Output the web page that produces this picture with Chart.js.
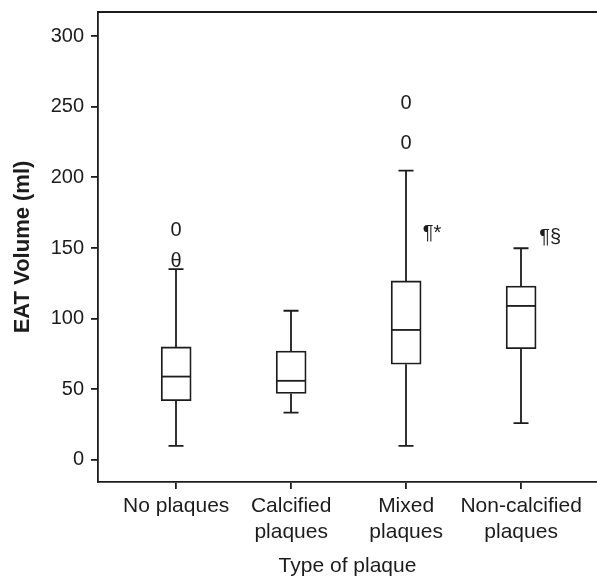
<!DOCTYPE html>
<html><head><meta charset="utf-8">
<script src="https://cdn.jsdelivr.net/npm/chart.js@4.4.1/dist/chart.umd.min.js"></script>
<style>html,body{margin:0;padding:0;background:#fff}</style>
</head><body>
<canvas id="c" width="597" height="587"></canvas>
<script>
const categories = [["No plaques"], ["Calcified", "plaques"], ["Mixed", "plaques"], ["Non-calcified", "plaques"]];
const whiskerLow = [10, 33.5, 10, 26];
const q1 = [42, 47, 67.7, 78.8];
const median = [59, 56, 92, 109];
const q3 = [80, 77, 126.7, 123];
const whiskerHigh = [135, 105.6, 204.7, 149.8];
const outlierCat = [1, 1, 3, 3];
const outlierVal = [140.3, 162.7, 224, 252.4];
const outlierSym = ["θ", "0", "0", "0"];
const noteX = [3.226, 4.252];
const noteVal = [160.6, 157.4];
const noteText = ["¶*", "¶§"];
const yTicks = [0, 50, 100, 150, 200, 250, 300];

const INK = '#1c1c1c';
const LW = 1.8;
const FONT = "'Liberation Sans', Arial, sans-serif";
const positions = categories.map((_, i) => i + 1);

const boxes = positions.map((x, i) => ({ x: x, y: [q1[i], q3[i]] }));

const whiskerPlugin = {
  id: 'whiskers',
  afterDatasetsDraw(chart) {
    const { ctx, scales: { x, y }, chartArea } = chart;
    ctx.save();
    ctx.strokeStyle = INK;
    ctx.lineWidth = LW;
    positions.forEach((p, i) => {
      const px = Math.round(x.getPixelForValue(p));
      const segs = [[q3[i], whiskerHigh[i]], [q1[i], whiskerLow[i]]];
      segs.forEach(([a, b]) => {
        const ya = y.getPixelForValue(a), yb = y.getPixelForValue(b);
        ctx.beginPath();
        ctx.moveTo(px, ya); ctx.lineTo(px, yb);
        ctx.moveTo(px - 7.5, yb); ctx.lineTo(px + 7.5, yb);
        ctx.stroke();
      });
      const ym = y.getPixelForValue(median[i]);
      ctx.beginPath();
      ctx.moveTo(px - 15, ym); ctx.lineTo(px + 15, ym);
      ctx.stroke();
    });
    // top frame line
    ctx.beginPath();
    ctx.moveTo(chartArea.left, chartArea.top);
    ctx.lineTo(chartArea.right, chartArea.top);
    ctx.stroke();
    // outlier symbols and notes
    ctx.fillStyle = INK;
    ctx.textAlign = 'center';
    ctx.textBaseline = 'middle';
    ctx.font = '20px ' + FONT;
    outlierCat.forEach((c, i) => {
      ctx.fillText(outlierSym[i], x.getPixelForValue(c), y.getPixelForValue(outlierVal[i]));
    });
    noteX.forEach((nx, i) => {
      ctx.fillText(noteText[i], x.getPixelForValue(nx), y.getPixelForValue(noteVal[i]));
    });
    ctx.restore();
  }
};

new Chart(document.getElementById('c'), {
  type: 'bar',
  data: {
    datasets: [{
      data: boxes,
      backgroundColor: '#fff', borderColor: INK, borderWidth: LW,
      borderSkipped: false, barThickness: 30
    }]
  },
  options: {
    responsive: false,
    animation: false,
    devicePixelRatio: 1,
    layout: { padding: { top: 12, left: 0, right: 0, bottom: 0 } },
    plugins: { legend: { display: false }, tooltip: { enabled: false } },
    scales: {
      x: {
        type: 'linear', min: 0.32, max: 4.66, offset: false,
        afterBuildTicks(s) { s.ticks = positions.map(v => ({ value: v })); },
        afterFit(s) { s.height = 105; s.paddingLeft = 0; s.paddingRight = 0; },
        grid: { offset: false, drawOnChartArea: false, drawTicks: true, tickLength: 7, color: INK, lineWidth: LW },
        border: { display: true, color: INK, width: LW },
        ticks: {
          color: INK, padding: 5, maxRotation: 0, autoSkip: false,
          font: { family: FONT, size: 21, lineHeight: 1.2 },
          callback(v) { return categories[v - 1]; }
        },
        title: {
          display: true, text: 'Type of plaque', color: INK,
          font: { family: FONT, size: 21, lineHeight: 1.2 },
          padding: { top: 0, bottom: 8 }
        }
      },
      y: {
        min: -15.6, max: 317,
        afterBuildTicks(s) { s.ticks = yTicks.map(v => ({ value: v })); },
        afterFit(s) { s.width = 98; s.paddingTop = 0; s.paddingBottom = 0; },
        grid: { drawOnChartArea: false, drawTicks: true, tickLength: 7, color: INK, lineWidth: LW },
        border: { display: true, color: INK, width: LW },
        ticks: {
          color: INK, padding: 7,
          font: { family: FONT, size: 20 }
        },
        title: {
          display: true, text: 'EAT Volume (ml)', color: INK,
          font: { family: FONT, size: 22, weight: 'bold', lineHeight: 1.2 },
          padding: { top: 10, bottom: 0 }
        }
      }
    }
  },
  plugins: [whiskerPlugin]
});
</script>
</body></html>
